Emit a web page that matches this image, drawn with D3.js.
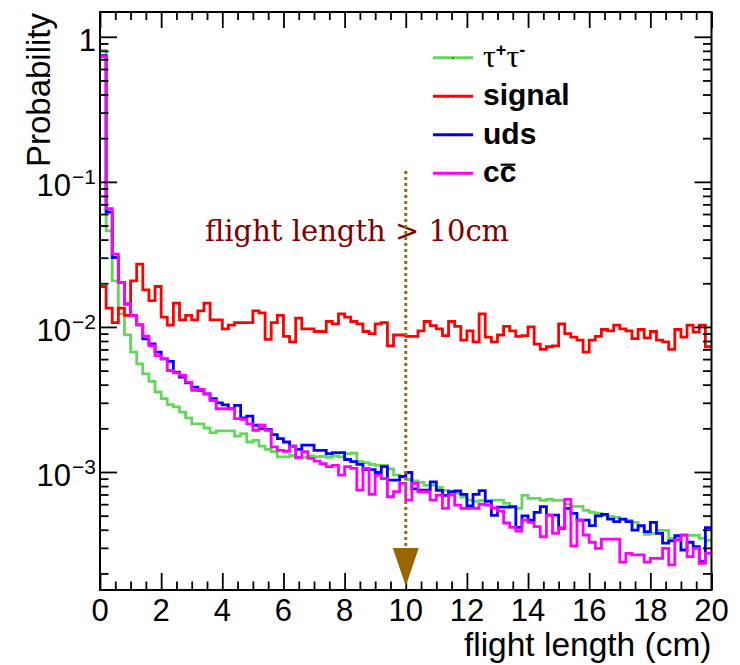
<!DOCTYPE html>
<html><head><meta charset="utf-8">
<script src="https://cdn.jsdelivr.net/npm/d3@7"></script>
<style>body{margin:0;background:#fff} svg{display:block}</style>
</head><body>
<svg id="c" width="740" height="665"></svg>
<script>
// ---------------- data ----------------
const binWidth = 0.2;   // cm
const nBins = 100;
const xTickValues = [0,2,4,6,8,10,12,14,16,18,20];
const yMajorTicks = [1, 1e-1, 1e-2, 1e-3];
const yTickBase = ["1", "10", "10", "10"];
const yTickExp = ["", "\u22121", "\u22122", "\u22123"];
const seriesNames = ["tautau", "signal", "uds", "ccbar"];
const cutValue = 10;
const cutLabel = "flight length > 10cm";
const xTitle = "flight length (cm)";
const yTitle = "Probability";

const tautau = [0.805, 0.0459, 0.0208, 0.01229, 0.00881, 0.0067, 0.00557, 0.00475, 0.00421, 0.00356,
 0.00320, 0.00291, 0.00281, 0.00259, 0.00236, 0.00215, 0.00215, 0.00201, 0.00187, 0.00192,
 0.00192, 0.00192, 0.00177, 0.00184, 0.00161, 0.00165, 0.00151, 0.00143, 0.00138, 0.00127,
 0.00127, 0.00130, 0.00124, 0.00126, 0.00129, 0.00127, 0.00128, 0.00126, 0.00129, 0.00127,
 0.00134, 0.00135, 0.00118, 0.00116, 0.00113, 0.00111, 0.00111, 0.00105, 0.000957, 0.000927,
 0.000888, 0.000867, 0.000847, 0.000808, 0.000808, 0.000782, 0.000746, 0.000726, 0.000712, 0.000671,
 0.000640, 0.000627, 0.000634, 0.000634, 0.000640, 0.000640, 0.000607, 0.000570, 0.000561, 0.000690,
 0.000657, 0.000657, 0.000637, 0.000647, 0.000637, 0.000637, 0.000598, 0.000579, 0.000579, 0.000544,
 0.000527, 0.000519, 0.000502, 0.000494, 0.000487, 0.000472, 0.000464, 0.000450, 0.000422, 0.000372,
 0.000378, 0.000396, 0.000396, 0.000349, 0.000349, 0.000366, 0.000366, 0.000366, 0.000349, 0.000338];

const signal = [0.0190, 0.0135, 0.0107, 0.0135, 0.0120, 0.0208, 0.0271, 0.0180, 0.0152, 0.0190,
 0.0117, 0.0103, 0.0146, 0.0112, 0.0120, 0.0112, 0.0129, 0.0146, 0.0112, 0.0112,
 0.0097, 0.0103, 0.0107, 0.0107, 0.0107, 0.0129, 0.0125, 0.0082, 0.0107, 0.0120,
 0.0086, 0.0079, 0.0115, 0.0097, 0.0097, 0.0093, 0.0093, 0.0109, 0.0105, 0.0123,
 0.0117, 0.0109, 0.0105, 0.0093, 0.0090, 0.0105, 0.0107, 0.0074, 0.0088, 0.0088,
 0.0086, 0.0086, 0.0094, 0.0109, 0.0102, 0.0097, 0.0087, 0.0109, 0.0101, 0.0081,
 0.0094, 0.0079, 0.0123, 0.0085, 0.0079, 0.0088, 0.0101, 0.0094, 0.0086, 0.0087,
 0.0100, 0.0076, 0.0070, 0.0073, 0.0074, 0.0105, 0.0090, 0.0085, 0.0081, 0.0067,
 0.0081, 0.0086, 0.0096, 0.0094, 0.0103, 0.0097, 0.0094, 0.0083, 0.0096, 0.0084,
 0.0093, 0.0081, 0.0079, 0.0070, 0.0096, 0.0085, 0.0103, 0.0092, 0.0103, 0.0073];

const uds = [0.74, 0.0620, 0.0301, 0.0203, 0.01439, 0.01196, 0.01032, 0.00827, 0.00764, 0.00670,
 0.00603, 0.00578, 0.00488, 0.00451, 0.00412, 0.00385, 0.00365, 0.00346, 0.00320, 0.00300,
 0.00290, 0.00273, 0.00288, 0.00236, 0.00243, 0.00210, 0.00199, 0.00197, 0.00181, 0.00170,
 0.00161, 0.00151, 0.00143, 0.00153, 0.00153, 0.00141, 0.00141, 0.00134, 0.00136, 0.00136,
 0.00122, 0.00118, 0.00113, 0.00104, 0.00104, 0.000992, 0.00109, 0.000878, 0.000878, 0.000931,
 0.000992, 0.000764, 0.000750, 0.000750, 0.000856, 0.000746, 0.000690, 0.000731, 0.000741, 0.000701,
 0.000584, 0.000701, 0.000744, 0.000627, 0.000502, 0.000572, 0.000572, 0.000578, 0.000415, 0.000499,
 0.000466, 0.000527, 0.000578, 0.000505, 0.000505, 0.000409, 0.000561, 0.000519, 0.000466, 0.000466,
 0.000427, 0.000499, 0.000510, 0.000474, 0.000455, 0.000474, 0.000455, 0.000398, 0.000427, 0.000388,
 0.000450, 0.000378, 0.000323, 0.000335, 0.000364, 0.000290, 0.000328, 0.000306, 0.000241, 0.000413];

const ccbar = [0.73, 0.0654, 0.0318, 0.0203, 0.01439, 0.01196, 0.01032, 0.00863, 0.00744, 0.00635,
 0.00603, 0.00501, 0.00483, 0.00463, 0.00417, 0.00365, 0.00371, 0.00346, 0.00311, 0.00273,
 0.00273, 0.00273, 0.00233, 0.00231, 0.00215, 0.00194, 0.00210, 0.00194, 0.00149, 0.00141,
 0.00139, 0.00151, 0.00126, 0.00138, 0.00124, 0.00119, 0.00114, 0.00109, 0.00111, 0.000951,
 0.00109, 0.00106, 0.000750, 0.00106, 0.000701, 0.000951, 0.000902, 0.000675, 0.000731, 0.000834,
 0.000640, 0.000834, 0.000731, 0.000731, 0.000640, 0.000693, 0.000561, 0.000693, 0.000591, 0.000561,
 0.000561, 0.000561, 0.000598, 0.000591, 0.000565, 0.000538, 0.000445, 0.000415, 0.000392, 0.000466,
 0.000450, 0.000420, 0.000358, 0.000505, 0.000378, 0.000413, 0.000647, 0.000309, 0.000466, 0.000368,
 0.000328, 0.000298, 0.000345, 0.000345, 0.000345, 0.000239, 0.000275, 0.000268, 0.000268, 0.000239,
 0.000254, 0.000254, 0.000298, 0.000229, 0.000340, 0.000368, 0.000261, 0.000298, 0.000235, 0.000275];

// ---------------- layout / style ----------------
const L = 100, R = 711.5, T = 12, B = 590;
const colors = {tautau: "#62d85a", signal: "#ff0000", uds: "#0000ff", ccbar: "#ff00ff"};
const SANS = "'Liberation Sans', Arial, Helvetica, sans-serif";
const svg = d3.select("#c");

const x = d3.scaleLinear().domain([0, nBins * binWidth]).range([L, R]);
const y = d3.scaleLog().domain([1.537e-4, 1.482]).range([B, T]);

// histograms
const dataMap = {tautau, signal, uds, ccbar};
const line = d3.line().x(d => x(d[0])).y(d => y(d[1])).curve(d3.curveStepAfter);
seriesNames.forEach(name => {
  const vals = dataMap[name];
  const pts = vals.map((v, i) => [i * binWidth, v]);
  pts.push([nBins * binWidth, vals[vals.length - 1]]);
  svg.append("path").attr("d", line(pts)).attr("fill", "none")
    .attr("stroke", colors[name]).attr("stroke-width", 2.8).attr("stroke-linejoin", "miter");
});

// ticks
const xMinor = d3.range(0, 20.001, 0.5).filter(v => Math.abs(v / 2 - Math.round(v / 2)) > 1e-6);
const yMinor = [];
[-4, -3, -2, -1, 0].forEach(e => { for (let k = 2; k <= 9; k++) { const v = k * Math.pow(10, e); if (v > y.domain()[0] && v < y.domain()[1]) yMinor.push(v); } });

function axisG(gen, tx, ty) {
  const g = svg.append("g").attr("transform", `translate(${tx},${ty})`).call(gen);
  g.select(".domain").remove();
  g.selectAll("line").attr("stroke", "#000").attr("stroke-width", 1.8);
  g.selectAll("text").remove();
  return g;
}
axisG(d3.axisBottom(x).tickValues(xTickValues).tickSize(-17).tickFormat(""), 0, B);
axisG(d3.axisBottom(x).tickValues(xMinor).tickSize(-8.5).tickFormat(""), 0, B);
axisG(d3.axisTop(x).tickValues(xTickValues).tickSize(-16).tickFormat(""), 0, T);
axisG(d3.axisTop(x).tickValues(xMinor).tickSize(-8).tickFormat(""), 0, T);
axisG(d3.axisLeft(y).tickValues(yMajorTicks).tickSize(-17).tickFormat(""), L, 0);
axisG(d3.axisLeft(y).tickValues(yMinor).tickSize(-8.5).tickFormat(""), L, 0);
axisG(d3.axisRight(y).tickValues(yMajorTicks).tickSize(-17).tickFormat(""), R, 0);
axisG(d3.axisRight(y).tickValues(yMinor).tickSize(-8.5).tickFormat(""), R, 0);

// frame
svg.append("rect").attr("x", L).attr("y", T).attr("width", R - L).attr("height", B - T)
  .attr("fill", "none").attr("stroke", "#000").attr("stroke-width", 2);

// x tick labels
svg.append("g").selectAll("text").data(xTickValues).join("text")
  .attr("x", d => x(d)).attr("y", 621).attr("text-anchor", "middle")
  .attr("font-family", SANS).attr("font-size", 31).attr("fill", "#000").text(d => d);

// y tick labels
yMajorTicks.forEach((v, i) => {
  const t = svg.append("text").attr("x", 96).attr("y", y(v) + 14).attr("text-anchor", "end")
    .attr("font-family", SANS).attr("font-size", 31).attr("fill", "#000");
  t.append("tspan").text(yTickBase[i]);
  if (yTickExp[i]) t.append("tspan").attr("dy", -12).attr("dx", 1).attr("font-size", 21).text(yTickExp[i]);
});

// axis titles
svg.append("text").attr("x", R).attr("y", 656).attr("text-anchor", "end")
  .attr("font-family", SANS).attr("font-size", 33.5).attr("fill", "#000").text(xTitle);
svg.append("text").attr("transform", `translate(50,${T + 1}) rotate(-90)`).attr("text-anchor", "end")
  .attr("font-family", SANS).attr("font-size", 33).attr("fill", "#000").text(yTitle);

// legend
const legX1 = 433, legX2 = 473, legTextX = 483, legY0 = 57.7, legDy = 38.5;
seriesNames.forEach((name, i) => {
  const ly = legY0 + i * legDy;
  svg.append("line").attr("x1", legX1).attr("x2", legX2).attr("y1", ly).attr("y2", ly)
    .attr("stroke", colors[name]).attr("stroke-width", 3);
  svg.append("rect").attr("x", 452.5).attr("y", ly - 0.5).attr("width", 1.2).attr("height", 1.2).attr("fill", "#000");
  const t = svg.append("text").attr("x", legTextX).attr("y", ly + 9)
    .attr("font-family", SANS).attr("font-size", 30).attr("font-weight", "bold").attr("fill", "#000");
  if (name === "tautau") {
    t.append("tspan").attr("font-family", "'Liberation Serif', 'Times New Roman', serif").attr("font-weight", "normal").attr("font-size", 32).text("\u03c4");
    t.append("tspan").attr("dy", -11).attr("font-size", 18).text("+");
    t.append("tspan").attr("dy", 11).attr("font-family", "'Liberation Serif', 'Times New Roman', serif").attr("font-weight", "normal").attr("font-size", 32).text("\u03c4");
    t.append("tspan").attr("dy", -11).attr("font-size", 18).text("-");
  } else if (name === "ccbar") {
    t.text("cc");
    const node = t.node();
    const s = node.getStartPositionOfChar(1).x, e = node.getEndPositionOfChar(1).x;
    svg.append("line").attr("x1", s + 1).attr("x2", e - 1).attr("y1", ly - 8.5).attr("y2", ly - 8.5)
      .attr("stroke", "#000").attr("stroke-width", 2.2);
  } else {
    t.text(name);
  }
});

// cut annotation
svg.append("text").attr("x", 205).attr("y", 240.5)
  .attr("font-family", "'DejaVu Serif', serif").attr("font-size", 29).attr("fill", "#800000").text(cutLabel);
const xc = x(cutValue);
svg.append("line").attr("x1", xc).attr("x2", xc).attr("y1", 171).attr("y2", 549)
  .attr("stroke", "#9c6a10").attr("stroke-width", 3).attr("stroke-dasharray", "3,3");
svg.append("path").attr("d", `M${xc - 13},548 L${xc + 13},548 L${xc},586 Z`).attr("fill", "#996600");
</script>
</body></html>
